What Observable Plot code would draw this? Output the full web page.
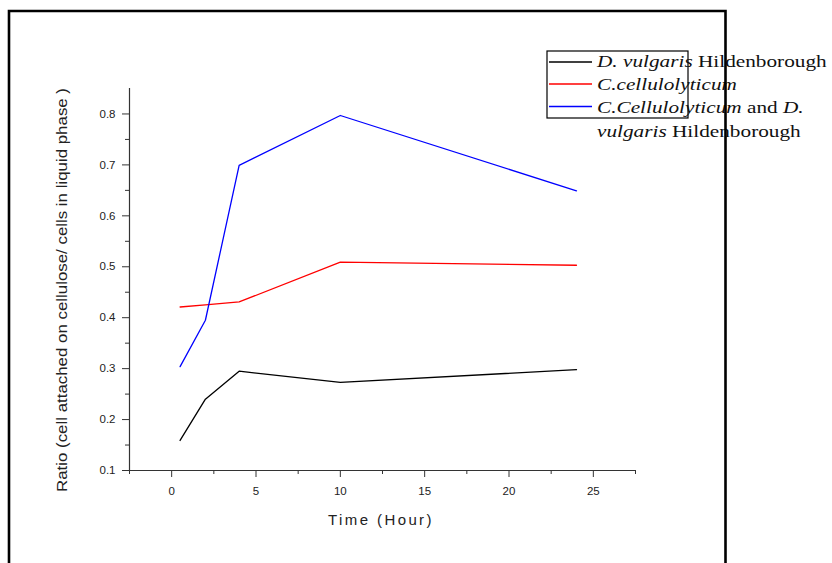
<!DOCTYPE html>
<html>
<head>
<meta charset="utf-8">
<script src="https://cdn.jsdelivr.net/npm/d3@7"></script>
<script src="https://cdn.jsdelivr.net/npm/@observablehq/plot@0.6"></script>
<style>
  html, body { margin: 0; padding: 0; background: #fff; }
  #chart { width: 832px; height: 563px; overflow: hidden; }
</style>
</head>
<body>
<div id="chart"></div>
<script>
// ---- data ----
const seriesNames = ["D. vulgaris Hildenborough", "C.cellulolyticum", "C.Cellulolyticum and D. vulgaris Hildenborough"];
const seriesColors = ["#000000", "#ff0000", "#0000ff"];
const times = [0.5, 2, 4, 10, 24];
const dvulgaris = [0.159, 0.240, 0.295, 0.273, 0.298];
const ccellulolyticum = [0.421, 0.425, 0.431, 0.509, 0.503];
const coculture = [0.304, 0.395, 0.699, 0.797, 0.649];
const xMajorTicks = [0, 5, 10, 15, 20, 25];
const xMinorTicks = [-2.5, 2.5, 7.5, 12.5, 17.5, 22.5, 27.5];
const yMajorTicks = [0.1, 0.2, 0.3, 0.4, 0.5, 0.6, 0.7, 0.8];
const yMinorTicks = [0.15, 0.25, 0.35, 0.45, 0.55, 0.65, 0.75];
const xTitle = "Time (Hour)";
const yTitle = "Ratio (cell attached on cellulose/ cells in liquid phase )";

const rows = [];
[dvulgaris, ccellulolyticum, coculture].forEach((vals, i) => {
  vals.forEach((v, j) => rows.push({series: seriesNames[i], t: times[j], r: v}));
});

const axisColor = "#333";
const chart = Plot.plot({
  width: 832,
  height: 563,
  marginLeft: 129,
  marginRight: 197,
  marginTop: 88,
  marginBottom: 93,
  style: {fontFamily: "'Liberation Sans', Arial, sans-serif", color: "#222", background: "#fff"},
  x: {domain: [-2.5, 27.5], label: null},
  y: {domain: [0.1, 0.85], label: null},
  color: {domain: seriesNames, range: seriesColors},
  marks: [
    Plot.axisX(xMajorTicks, {tickSize: 7, tickPadding: 9, fontSize: 11.5, stroke: axisColor, label: null}),
    Plot.axisX(xMinorTicks, {tickSize: 4, tickFormat: () => "", stroke: axisColor, label: null}),
    Plot.axisY(yMajorTicks, {tickSize: 7, tickPadding: 7, fontSize: 11.5, stroke: axisColor, tickFormat: d3.format(".1f"), label: null}),
    Plot.axisY(yMinorTicks, {tickSize: 4, tickFormat: () => "", stroke: axisColor, label: null}),
    Plot.ruleY([0.1], {stroke: axisColor, strokeWidth: 1.2}),
    Plot.ruleX([-2.5], {stroke: axisColor, strokeWidth: 1.2}),
    Plot.line(rows, {x: "t", y: "r", z: "series", stroke: "series", strokeWidth: 1.3})
  ]
});
document.getElementById("chart").appendChild(chart);

const svg = d3.select(chart);
// axis titles
svg.append("text")
  .attr("x", 381).attr("y", 525)
  .attr("text-anchor", "middle")
  .style("font-family", "'Liberation Sans', Arial, sans-serif")
  .style("font-size", "15px")
  .style("letter-spacing", "2.4px")
  .attr("fill", "#222")
  .text(xTitle);
svg.append("text")
  .attr("transform", "translate(67,290) rotate(-90)")
  .attr("text-anchor", "middle")
  .attr("textLength", 404)
  .attr("lengthAdjust", "spacingAndGlyphs")
  .style("font-family", "'Liberation Sans', Arial, sans-serif")
  .style("font-size", "15px")
  .attr("fill", "#222")
  .text(yTitle);

// legend
const lg = svg.append("g").attr("text-anchor", "start");
lg.append("rect").attr("x", 547).attr("y", 51).attr("width", 141).attr("height", 67)
  .attr("fill", "none").attr("stroke", "#000").attr("stroke-width", 1.2);
[62, 84, 106.5].forEach((y, i) => {
  lg.append("line").attr("x1", 549).attr("x2", 592).attr("y1", y).attr("y2", y)
    .attr("stroke", seriesColors[i]).attr("stroke-width", 1.3);
});
const legendLines = [
  [["D. vulgaris", true], [" Hildenborough", false]],
  [["C.cellulolyticum", true]],
  [["C.Cellulolyticum", true], [" and ", false], ["D.", true]],
  [["vulgaris", true], [" Hildenborough", false]]
];
const baselines = [67, 90, 113, 137];
legendLines.forEach((parts, i) => {
  const t = lg.append("text")
    .attr("text-anchor", "start")
    .attr("transform", `translate(597,${baselines[i]}) scale(1.215,1)`)
    .style("font-family", "'Liberation Serif', 'Times New Roman', serif")
    .style("font-size", "17.5px")
    .attr("fill", "#111");
  parts.forEach(([s, it]) => t.append("tspan").style("font-style", it ? "italic" : "normal").text(s));
});

// outer frame (drawn over the legend text like the reference)
svg.append("path").attr("d", "M9,563V11H725.5V563")
  .attr("fill", "none").attr("stroke", "#000").attr("stroke-width", 2.6);
</script>
</body>
</html>
